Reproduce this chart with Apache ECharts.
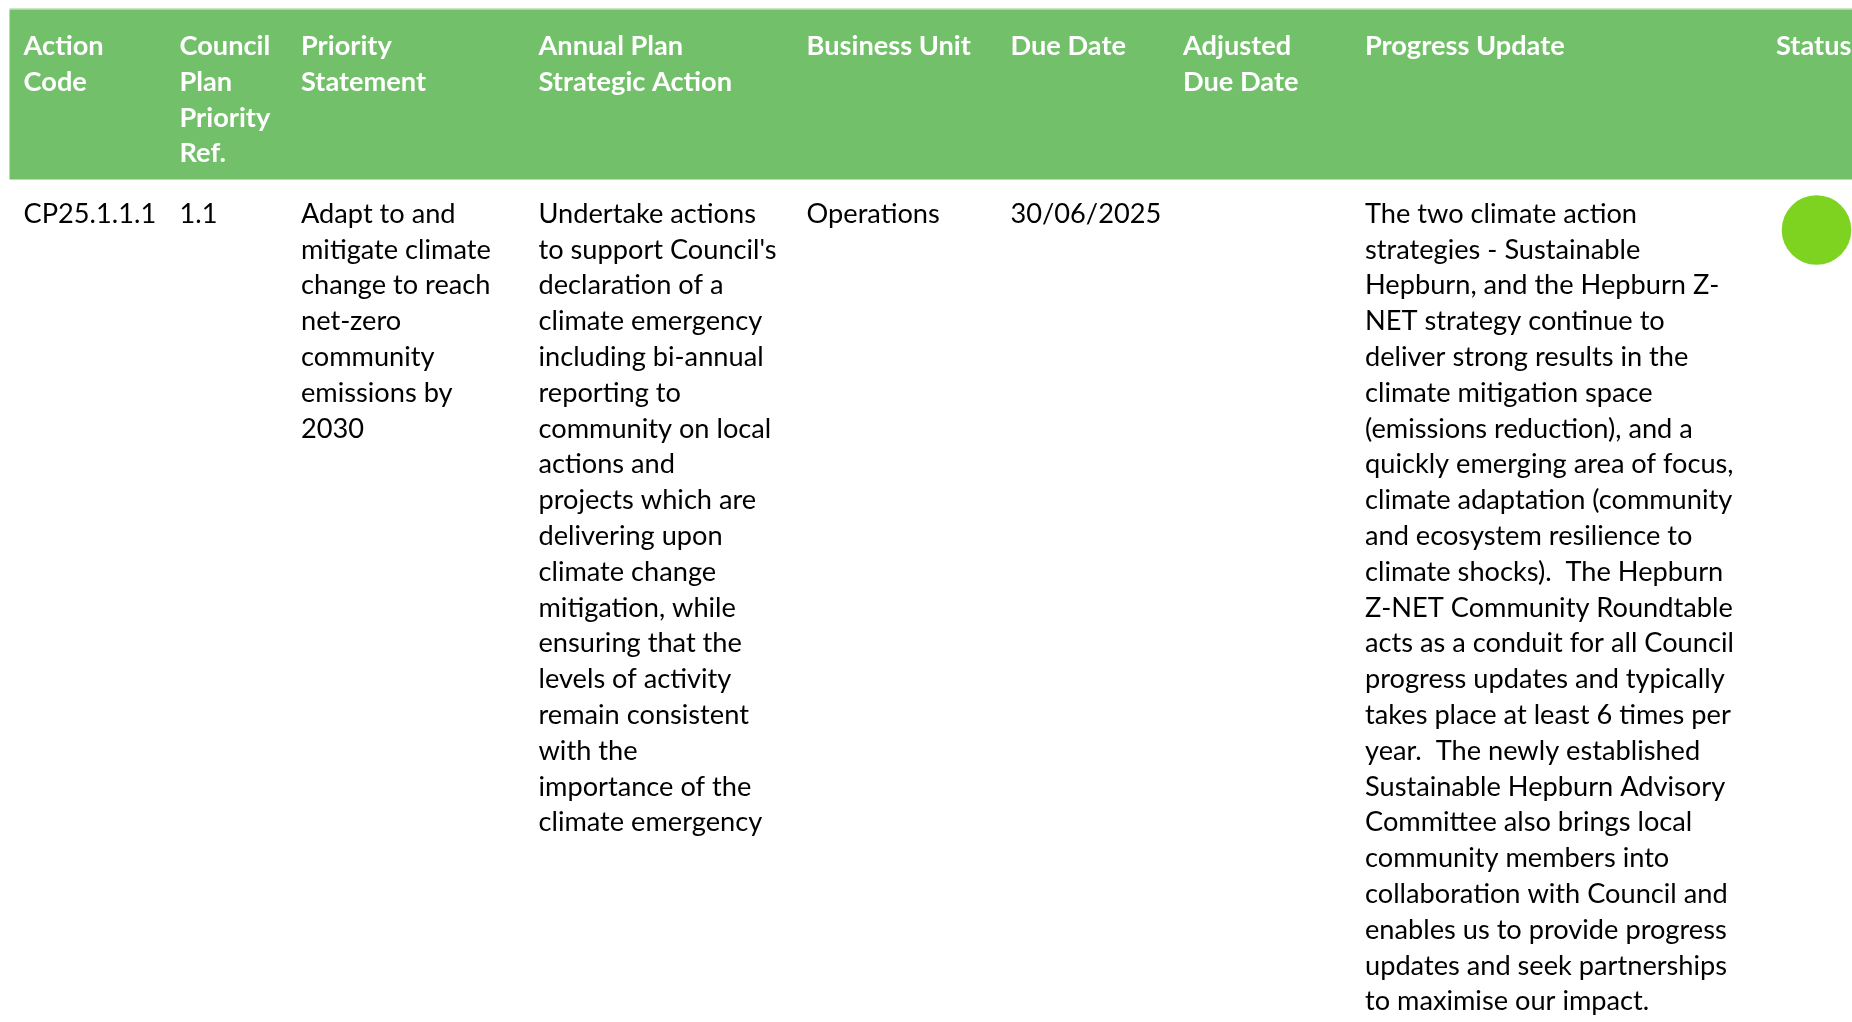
<!DOCTYPE html>
<html><head><meta charset="utf-8">
<script src="https://cdn.jsdelivr.net/npm/echarts@6/dist/echarts.min.js"></script>
<style>html,body{margin:0;padding:0;background:#fff}#c{width:1852px;height:1022px}</style>
</head><body><div id="c"></div>
<script>
// ---- data ----
const headers = ['Action\nCode', 'Council\nPlan\nPriority\nRef.', 'Priority\nStatement', 'Annual Plan\nStrategic Action', 'Business Unit', 'Due Date', 'Adjusted\nDue Date', 'Progress Update', 'Status'];
const actionCode = ['CP25.1.1.1'];
const councilPlanRef = ['1.1'];
const priorityStatement = ['Adapt to and\nmitigate climate\nchange to reach\nnet-zero\ncommunity\nemissions by\n2030'];
const strategicAction = ["Undertake actions\nto support Council's\ndeclaration of a\nclimate emergency\nincluding bi-annual\nreporting to\ncommunity on local\nactions and\nprojects which are\ndelivering upon\nclimate change\nmitigation, while\nensuring that the\nlevels of activity\nremain consistent\nwith the\nimportance of the\nclimate emergency"];
const businessUnit = ['Operations'];
const dueDate = ['30/06/2025'];
const adjustedDueDate = [''];
const progressUpdate = ['The two climate action\nstrategies - Sustainable\nHepburn, and the Hepburn Z-\nNET strategy continue to\ndeliver strong results in the\nclimate mitigation space\n(emissions reduction), and a\nquickly emerging area of focus,\nclimate adaptation (community\nand ecosystem resilience to\nclimate shocks).  The Hepburn\nZ-NET Community Roundtable\nacts as a conduit for all Council\nprogress updates and typically\ntakes place at least 6 times per\nyear.  The newly established\nSustainable Hepburn Advisory\nCommittee also brings local\ncommunity members into\ncollaboration with Council and\nenables us to provide progress\nupdates and seek partnerships\nto maximise our impact.'];
const status = ['On Track'];
const statusColors = {'On Track': '#7ED321'};

// ---- layout (not data) ----
const W = 1852, H = 1022;
const colLeft = [23.6, 179.5, 301, 538.5, 806.6, 1010.5, 1183, 1365, 1776];
const headerTop = 9.5, headerBottom = 179.5, tableLeft = 9.5;
const lineH = 35.8;
const headerTextTop = 46.2 - lineH / 2;
const bodyTextTop = 214 - lineH / 2;
const FONT = 'Lato';
const FS = 27.2;

const columns = [actionCode, councilPlanRef, priorityStatement, strategicAction, businessUnit, dueDate, adjustedDueDate, progressUpdate, status];
const cellData = headers.map((h, i) => [i]);

const chart = echarts.init(document.getElementById('c'), null, {renderer: 'canvas'});
chart.setOption({
  animation: false,
  backgroundColor: '#ffffff',
  grid: {left: 0, right: 0, top: 0, bottom: 0},
  xAxis: {type: 'value', min: 0, max: W, show: false},
  yAxis: {type: 'value', min: 0, max: H, inverse: true, show: false},
  series: [
    {
      type: 'custom',
      coordinateSystem: 'cartesian2d',
      data: [[0]],
      silent: true,
      renderItem: function (params, api) {
        const p0 = api.coord([tableLeft, headerTop]);
        const p1 = api.coord([W, headerBottom]);
        return {
          type: 'group',
          children: [
            {type: 'rect', shape: {x: p0[0], y: p0[1] - 1.5, width: p1[0] - p0[0], height: 1.5}, style: {fill: '#c9e6c5'}},
            {type: 'rect', shape: {x: p0[0], y: p0[1], width: p1[0] - p0[0], height: p1[1] - p0[1]}, style: {fill: '#73C06A'}}
          ]
        };
      }
    },
    {
      type: 'custom',
      coordinateSystem: 'cartesian2d',
      data: cellData,
      silent: true,
      renderItem: function (params, api) {
        const i = api.value(0);
        const hp = api.coord([colLeft[i], headerTextTop]);
        const children = [{
          type: 'text',
          style: {
            text: headers[i], x: hp[0], y: hp[1],
            font: 'bold ' + FS + 'px ' + FONT, fill: '#ffffff',
            lineHeight: lineH, verticalAlign: 'top', align: 'left'
          }
        }];
        const col = columns[i];
        for (let r = 0; r < col.length; r++) {
          if (col === status) {
            const c = api.coord([colLeft[i] + 40.5, bodyTextTop + lineH / 2 + 16]);
            children.push({type: 'circle', shape: {cx: c[0], cy: c[1], r: 34.8}, style: {fill: statusColors[col[r]]}});
          } else {
            const bp = api.coord([colLeft[i], bodyTextTop]);
            children.push({
              type: 'text',
              style: {
                text: col[r], x: bp[0], y: bp[1],
                font: FS + 'px ' + FONT, fill: '#000000',
                lineHeight: lineH, verticalAlign: 'top', align: 'left'
              }
            });
          }
        }
        return {type: 'group', children: children};
      }
    }
  ]
});
</script></body></html>
